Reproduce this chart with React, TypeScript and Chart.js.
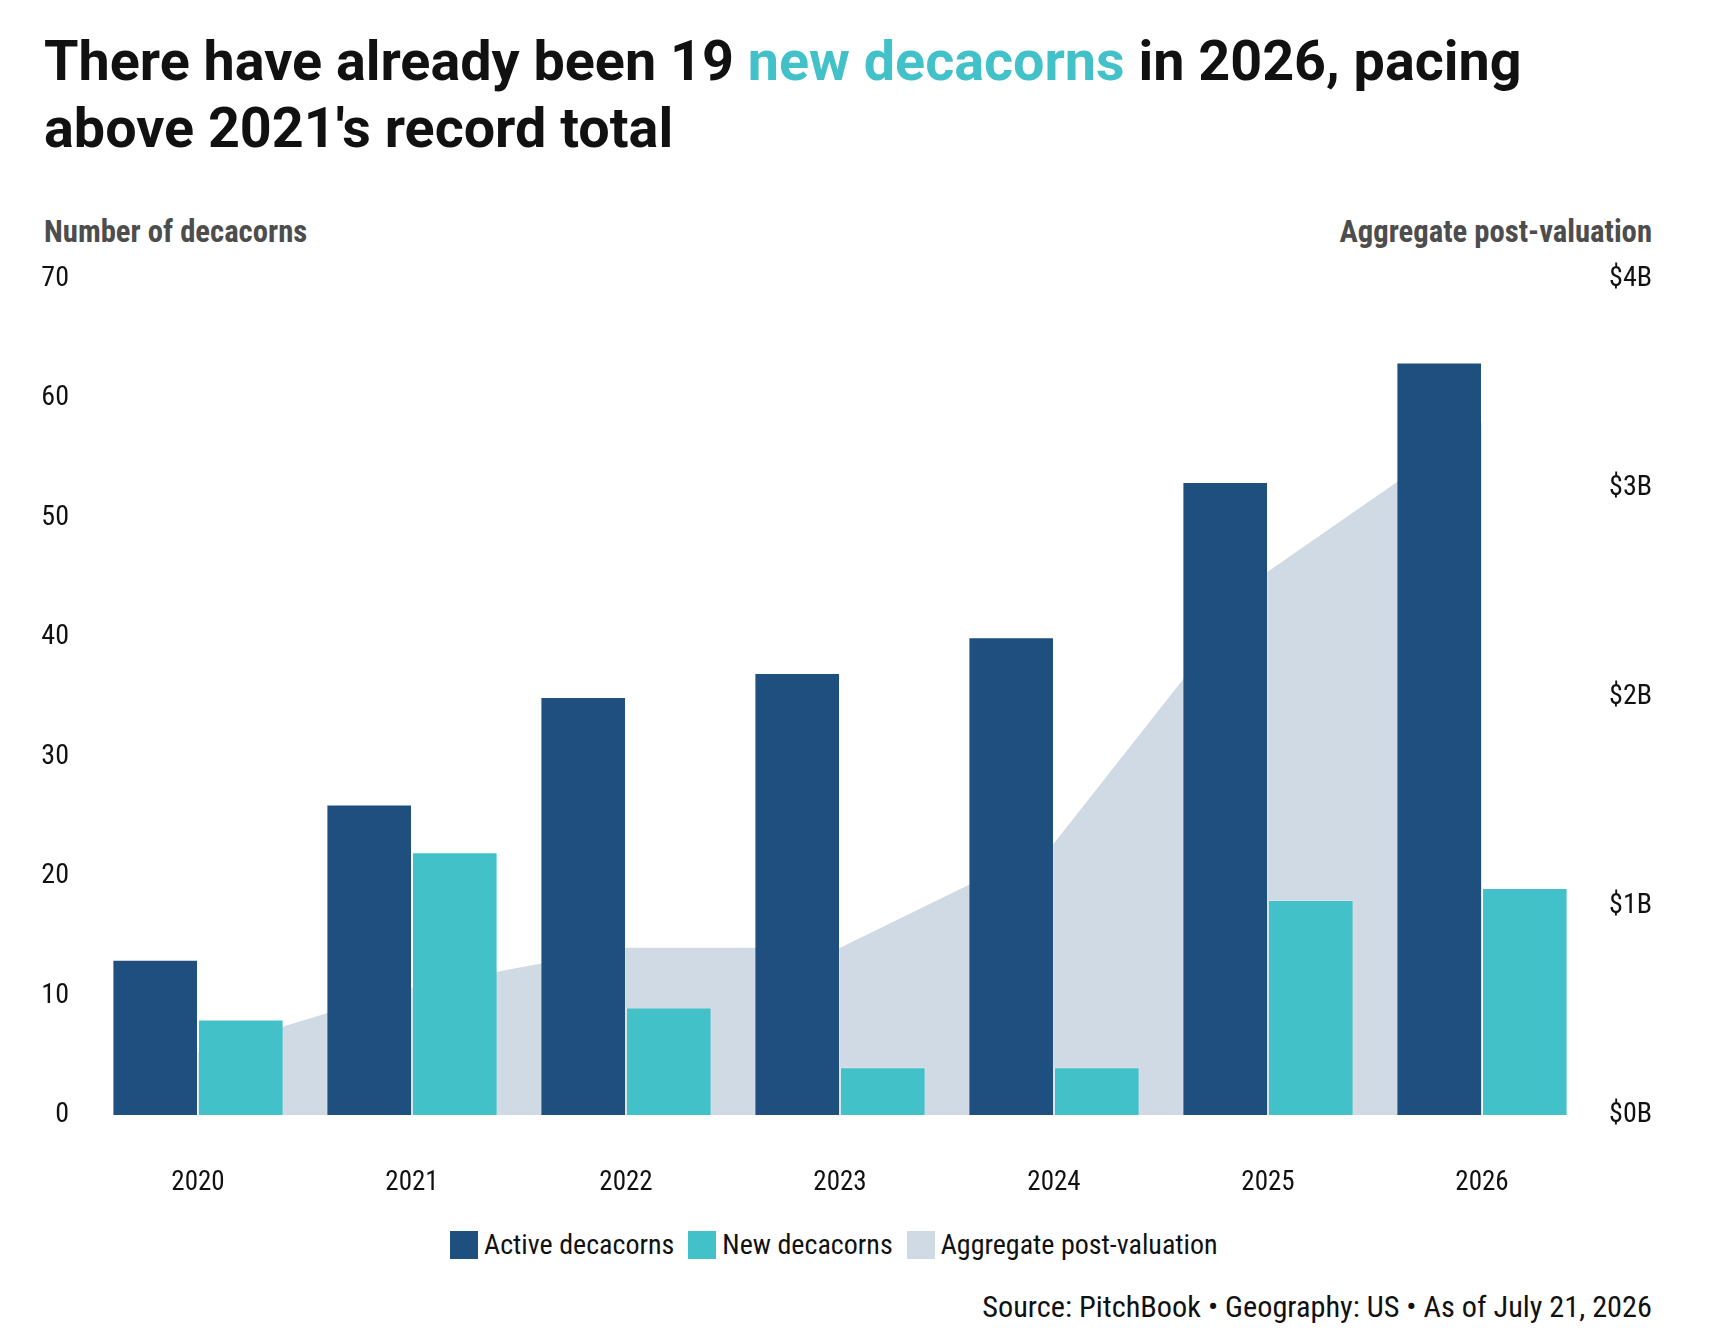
import React, { useEffect, useRef } from "react";
import { Chart, registerables } from "chart.js";

Chart.register(...registerables);

const years = ["2020", "2021", "2022", "2023", "2024", "2025", "2026"];
const activeDecacorns = [13, 26, 35, 37, 40, 53, 63];
const newDecacorns = [8, 22, 9, 4, 4, 18, 19];
const aggregateValuationB = [0.3, 0.61, 0.8, 0.8, 1.3, 2.6, 3.31];

const leftTicksMax = 70;
const rightTicksMax = 4;

const COND = "'Roboto Condensed', 'Liberation Sans Narrow', 'DejaVu Sans Condensed', Roboto, sans-serif";

const C_ACTIVE = "#1F4F7F";
const C_NEW = "#42C2C8";
const C_AREA = "#D0DAE4";

const CANVAS_TOP = 240;
const CANVAS_H = 980;

export default function App() {
  const ref = useRef<HTMLCanvasElement | null>(null);

  useEffect(() => {
    document.body.style.margin = "0";
    const canvas = ref.current;
    if (!canvas) return;
    const chart = new Chart(canvas, {
      type: "bar",
      data: {
        labels: years,
        datasets: [
          {
            label: "Active decacorns",
            data: activeDecacorns,
            backgroundColor: C_ACTIVE,
            borderColor: "rgba(255,255,255,0.25)",
            borderWidth: 1,
            yAxisID: "y",
            order: 1,
            categoryPercentage: 0.8,
            barPercentage: 1.0,
          },
          {
            label: "New decacorns",
            data: newDecacorns,
            backgroundColor: C_NEW,
            borderColor: "rgba(255,255,255,0.25)",
            borderWidth: 1,
            yAxisID: "y",
            order: 1,
            categoryPercentage: 0.8,
            barPercentage: 1.0,
          },
          {
            type: "line",
            label: "Aggregate post-valuation",
            data: aggregateValuationB,
            backgroundColor: C_AREA,
            borderColor: C_AREA,
            borderWidth: 0,
            pointRadius: 0,
            tension: 0,
            fill: "origin",
            yAxisID: "y1",
            order: 2,
          } as any,
        ],
      },
      options: {
        responsive: false,
        animation: false,
        devicePixelRatio: 1,
        layout: { padding: { top: 35.5, right: 58, bottom: 0, left: 0 } },
        plugins: {
          legend: { display: false },
          tooltip: { enabled: false },
          title: { display: false },
        },
        scales: {
          x: {
            grid: { display: false, drawTicks: false },
            border: { display: false },
            ticks: {
              padding: 52,
              color: "#111",
              font: { family: COND, size: 27 },
              maxRotation: 0,
            },
            afterFit: (s: any) => {
              s.height = CANVAS_H - (1115 - CANVAS_TOP);
            },
          },
          y: {
            position: "left",
            min: 0,
            max: leftTicksMax,
            grid: { display: false, drawTicks: false },
            border: { display: false },
            ticks: {
              stepSize: 10,
              padding: 22,
              color: "#111",
              font: { family: COND, size: 28 },
            },
            afterFit: (s: any) => {
              s.width = 91;
            },
          },
          y1: {
            position: "right",
            min: 0,
            max: rightTicksMax,
            grid: { display: false, drawTicks: false },
            border: { display: false },
            ticks: {
              stepSize: 1,
              crossAlign: "far",
              color: "#111",
              font: { family: COND, size: 28 },
              callback: (v: any) => `$${v}B`,
            },
            afterFit: (s: any) => {
              s.width = 63;
            },
          },
        },
      } as any,
    });
    return () => chart.destroy();
  }, []);

  const legendItems = [
    { label: "Active decacorns", color: C_ACTIVE },
    { label: "New decacorns", color: C_NEW },
    { label: "Aggregate post-valuation", color: C_AREA },
  ];

  return (
    <div
      style={{
        position: "relative",
        width: 1710,
        height: 1340,
        background: "#fff",
        fontFamily: "Roboto, sans-serif",
        overflow: "hidden",
      }}
    >
      <div
        style={{
          position: "absolute",
          left: 44,
          top: 28,
          fontSize: 55.7,
          lineHeight: "67px",
          fontWeight: 700,
          color: "#111",
          whiteSpace: "nowrap",
        }}
      >
        There have already been 19 <span style={{ color: C_NEW }}>new decacorns</span> in 2026, pacing
        <br />
        above 2021's record total
      </div>
      <div
        style={{
          position: "absolute",
          left: 44,
          top: 212,
          fontFamily: COND,
          fontSize: 30.7,
          lineHeight: "40px",
          fontWeight: 700,
          color: "#4d4d4d",
          whiteSpace: "nowrap",
        }}
      >
        Number of decacorns
      </div>
      <div
        style={{
          position: "absolute",
          right: 1710 - 1652,
          top: 212,
          fontFamily: COND,
          fontSize: 30.7,
          lineHeight: "40px",
          fontWeight: 700,
          color: "#4d4d4d",
          whiteSpace: "nowrap",
          textAlign: "right",
        }}
      >
        Aggregate post-valuation
      </div>
      <canvas
        ref={ref}
        width={1710}
        height={CANVAS_H}
        style={{ position: "absolute", left: 0, top: CANVAS_TOP, width: 1710, height: CANVAS_H }}
      />
      <div
        style={{
          position: "absolute",
          left: 450,
          top: 1231,
          height: 28,
          display: "flex",
          alignItems: "center",
          fontFamily: COND,
          fontSize: 28,
          color: "#111",
          whiteSpace: "nowrap",
        }}
      >
        {legendItems.map((it) => (
          <div key={it.label} style={{ display: "flex", alignItems: "center", marginRight: 14 }}>
            <span style={{ display: "inline-block", width: 28, height: 28, background: it.color, marginRight: 6 }} />
            <span style={{ lineHeight: "28px" }}>{it.label}</span>
          </div>
        ))}
      </div>
      <div
        style={{
          position: "absolute",
          right: 1710 - 1652,
          top: 1288,
          fontFamily: COND,
          fontSize: 30.3,
          lineHeight: "38px",
          color: "#111",
          whiteSpace: "nowrap",
        }}
      >
        Source: PitchBook • Geography: US • As of July 21, 2026
      </div>
    </div>
  );
}
